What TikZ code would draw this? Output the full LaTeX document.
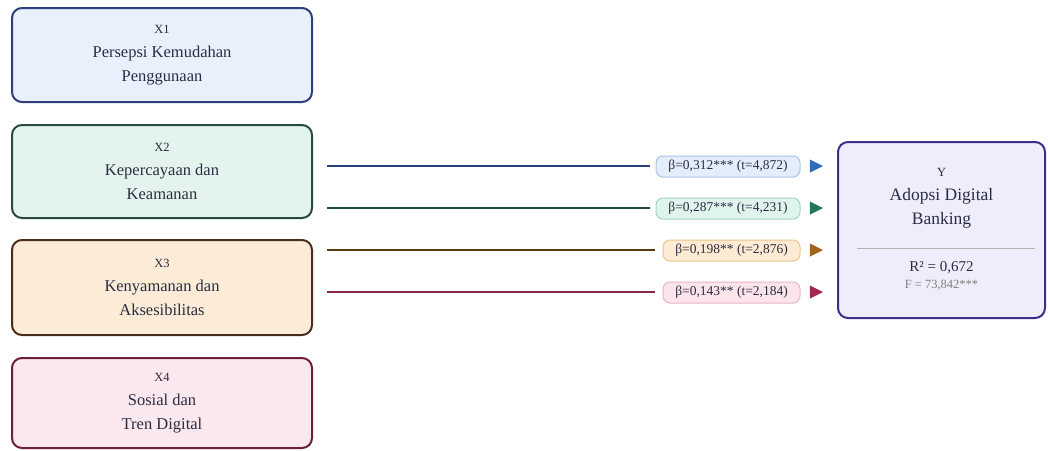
\documentclass[tikz,border=0pt]{standalone}
\usepackage{fontspec}
\setmainfont{Liberation Serif}
\usetikzlibrary{shapes.geometric}
\definecolor{txt}{HTML}{2B2D42}
\definecolor{bBd}{HTML}{2D3F7C}\definecolor{bFl}{HTML}{E7F0FB}
\definecolor{gBd}{HTML}{2A4A3C}\definecolor{gFl}{HTML}{E3F4EE}
\definecolor{oBd}{HTML}{4B2D1D}\definecolor{oFl}{HTML}{FCECD7}
\definecolor{pBd}{HTML}{6B1F3C}\definecolor{pFl}{HTML}{FBE7EE}
\definecolor{yBd}{HTML}{3B2F8A}\definecolor{yFl}{HTML}{EEEDFB}
\definecolor{lnB}{HTML}{2D3F7C}\definecolor{lnG}{HTML}{1F4A3A}
\definecolor{lnO}{HTML}{5A3A14}\definecolor{lnP}{HTML}{8B2846}
\definecolor{lbBf}{HTML}{E4EEFB}\definecolor{lbBd}{HTML}{A9C3E6}
\definecolor{lbGf}{HTML}{E0F4EE}\definecolor{lbGd}{HTML}{A3D4C3}
\definecolor{lbOf}{HTML}{FDECD3}\definecolor{lbOd}{HTML}{EEC48C}
\definecolor{lbPf}{HTML}{FBE5EB}\definecolor{lbPd}{HTML}{E8B4C4}
\definecolor{arB}{HTML}{2E6CB8}\definecolor{arG}{HTML}{1D7A55}
\definecolor{arO}{HTML}{A3621D}\definecolor{arP}{HTML}{A3284F}
\tikzset{
  varbox/.style={rounded corners=10pt, line width=2pt, minimum width=300pt, align=center,
    text=txt, inner sep=0pt, font=\fontsize{16.5}{24}\selectfont},
  lab/.style={rounded corners=7pt, line width=1pt, minimum height=21pt, inner sep=0pt,
    text=txt, font=\fontsize{13.5}{15}\selectfont},
  conn/.style={line width=2pt},
  tip/.style={isosceles triangle, isosceles triangle stretches, shape border rotate=0,
    minimum width=13pt, minimum height=13pt, inner sep=0pt},
  small/.style={font=\fontsize{12.5}{14}\selectfont}
}
\begin{document}
\begin{tikzpicture}[x=1pt,y=-1pt]
\useasboundingbox (0,0) rectangle (1048,450);
\fill[white] (0,0) rectangle (1048,450);
% variable boxes
\node[varbox, draw=bBd, fill=bFl, minimum height=94pt] (x1) at (162,55)
  {{\fontsize{12.5}{24}\selectfont X1}\\Persepsi Kemudahan\\Penggunaan};
\node[varbox, draw=gBd, fill=gFl, minimum height=93pt] (x2) at (162,171.5)
  {{\fontsize{12.5}{24}\selectfont X2}\\Kepercayaan dan\\Keamanan};
\node[varbox, draw=oBd, fill=oFl, minimum height=95pt] (x3) at (162,287.5)
  {{\fontsize{12.5}{24}\selectfont X3}\\Kenyamanan dan\\Aksesibilitas};
\node[varbox, draw=pBd, fill=pFl, minimum height=90pt] (x4) at (162,403)
  {{\fontsize{12.5}{24}\selectfont X4}\\Sosial dan\\Tren Digital};
% dependent box
\node[rounded corners=10pt, line width=2pt, draw=yBd, fill=yFl, minimum width=207pt,
  minimum height=176pt] (y) at (941.5,230) {};
\node[small, text=txt] (ylab) at (941.5,172) {Y};
\node[align=center, text=txt, font=\fontsize{17.5}{24}\selectfont] (yname) at (941.5,208)
  {Adopsi Digital\\Banking};
\coordinate (sepL) at (857,248);
\coordinate (sepR) at (1035,248);
\draw[line width=1pt, draw=black!30] (sepL) -- (sepR);
\node[text=txt, font=\fontsize{15}{17}\selectfont] (r2) at (941.5,268) {R² = 0,672};
\node[text=black!50, font=\fontsize{12.5}{14}\selectfont] (fval) at (941.5,285) {F = 73,842***};
% labels
\node[lab, draw=lbBd, fill=lbBf, minimum width=144pt] (l1) at (728,166.5) {β=0,312*** (t=4,872)};
\node[lab, draw=lbGd, fill=lbGf, minimum width=144pt] (l2) at (728,208.5) {β=0,287*** (t=4,231)};
\node[lab, draw=lbOd, fill=lbOf, minimum width=137pt] (l3) at (731.5,250.5) {β=0,198** (t=2,876)};
\node[lab, draw=lbPd, fill=lbPf, minimum width=137pt] (l4) at (731.5,292.5) {β=0,143** (t=2,184)};
% start points
\coordinate (s1) at (327,166);
\coordinate (s2) at (327,208);
\coordinate (s3) at (327,250);
\coordinate (s4) at (327,292);
\draw[conn, lnB, shorten >=6pt] (s1) -- (l1.west |- s1);
\draw[conn, lnG, shorten >=6pt] (s2) -- (l2.west |- s2);
\draw[conn, lnO, shorten >=8pt] (s3) -- (l3.west |- s3);
\draw[conn, lnP, shorten >=8pt] (s4) -- (l4.west |- s4);
% arrow tips
\node[tip, fill=arB] (a1) at (814,166) {};
\node[tip, fill=arG] (a2) at (814,208) {};
\node[tip, fill=arO] (a3) at (814,250) {};
\node[tip, fill=arP] (a4) at (814,292) {};
\end{tikzpicture}
\end{document}
